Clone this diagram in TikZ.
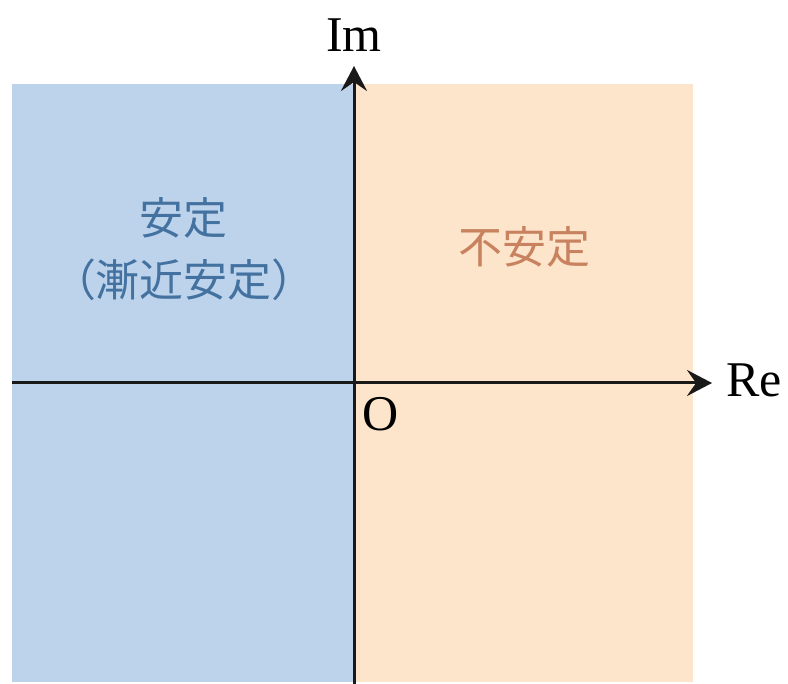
\documentclass[tikz,border=0pt]{standalone}
\usepackage{fontspec}
\setmainfont{Liberation Serif}
\newfontfamily\jpfont{Noto Sans CJK JP}
\usetikzlibrary{arrows.meta}
\definecolor{stableblue}{HTML}{BDD3EC}
\definecolor{unstableorange}{HTML}{FDE5CB}
\definecolor{stabletext}{HTML}{4472A0}
\definecolor{unstabletext}{HTML}{C8825F}
\begin{document}
\begin{tikzpicture}[x=1pt,y=-1pt,
  axis/.style={line width=3pt,draw=black!90,-{Stealth[length=25pt,width=26pt,inset=9pt]}},
  lbl/.style={font=\fontsize{50}{56}\selectfont,inner sep=0pt},
  jp/.style={font=\jpfont\fontsize{44}{62}\selectfont,align=center,inner sep=0pt}]
\useasboundingbox (0,0) rectangle (788,684);
\fill[white] (0,0) rectangle (788,684);
\fill[stableblue] (12,84) rectangle (354,682);
\fill[unstableorange] (354,84) rectangle (693,682);
\coordinate (xs) at (12,383);
\coordinate (xe) at (712,383);
\coordinate (ys) at (354,684);
\coordinate (ye) at (354,66);
\draw[axis] (xs) -- (xe);
\draw[axis] (ys) -- (ye);
\node[lbl,anchor=base] (im) at (354,52) {Im};
\node[lbl,anchor=base west] (re) at (726,397) {Re};
\node[lbl,anchor=base] (o) at (381,431) {O};
\node[jp,text=stabletext] (st) at (184,249) {安定\\（漸近安定）};
\node[jp,text=unstabletext] (un) at (524,247) {不安定};
\end{tikzpicture}
\end{document}
